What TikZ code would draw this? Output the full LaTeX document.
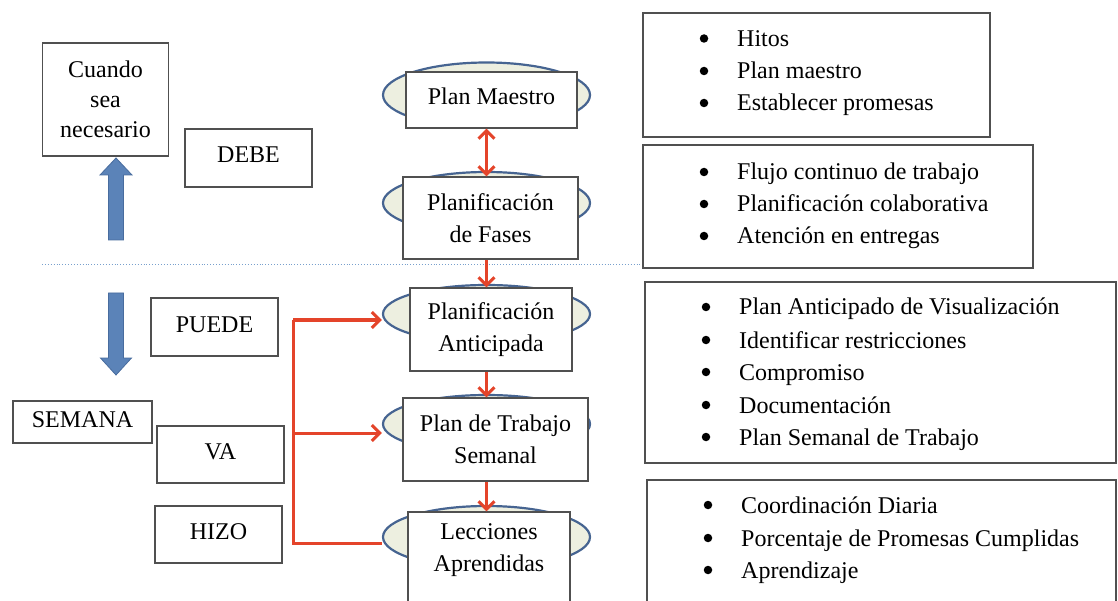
\documentclass[tikz,border=0pt]{standalone}
\usepackage{fontspec}
\setmainfont{Liberation Serif}
\usetikzlibrary{arrows.meta,shapes.geometric}
\definecolor{arrred}{RGB}{228,68,42}
\definecolor{ellline}{RGB}{70,100,145}
\definecolor{ellfill}{RGB}{237,239,224}
\definecolor{blk}{RGB}{91,131,184}
\definecolor{blkline}{RGB}{72,108,158}
\definecolor{dotblue}{RGB}{120,160,205}
\definecolor{boxline}{RGB}{80,80,80}
\begin{document}
\begin{tikzpicture}[x=1pt,y=-1pt,
  font=\fontsize{24}{32}\selectfont,
  box/.style={draw=boxline, line width=1.2, fill=white, inner sep=0, align=center},
  ell/.style={ellipse, draw=ellline, line width=2.2, fill=ellfill, inner sep=0, minimum width=207, minimum height=62},
  redline/.style={draw=arrred, line width=3},
  redarrow/.style={redline, -{Straight Barb[length=8,width=16,line width=3]}},
  blockarrow/.style={fill=blk, draw=blkline, line width=0.8},
  bul/.style={circle, fill=black, inner sep=0, minimum size=8.5},
  itm/.style={anchor=base west, inner sep=0}
]
\clip (0,0) rectangle (1118,601);
\fill[white] (0,0) rectangle (1118,601);

% dotted separator
\coordinate (dl) at (42,264);
\coordinate (dr) at (643,264);
\draw[dotblue, dotted, line width=0.9] (dl) -- (dr);

% left boxes
\node[box, minimum width=126, minimum height=113, font=\fontsize{24}{30}\selectfont] (cuando) at (105.5,99.5) {Cuando\\sea\\necesario};
\node[box, minimum width=127, minimum height=58, text height=17, text depth=7] (debe) at (248.5,158) {DEBE};
\node[box, minimum width=127, minimum height=58, text height=17, text depth=7] (puede) at (214.5,327) {PUEDE};
\node[box, minimum width=139, minimum height=42, text height=17, text depth=7] (semana) at (82.5,422) {SEMANA};
\node[box, minimum width=127, minimum height=57, text height=17, text depth=7] (va) at (220.5,454.5) {VA};
\node[box, minimum width=127, minimum height=57, text height=17, text depth=7] (hizo) at (218.5,534.5) {HIZO};

% block arrows
\filldraw[blockarrow] (108.5,240) -- (108.5,175) -- (100,175) -- (116,158) -- (132,175) -- (123.5,175) -- (123.5,240) -- cycle;
\filldraw[blockarrow] (108.5,293) -- (108.5,358) -- (100.5,358) -- (116,375) -- (131.5,358) -- (123.5,358) -- (123.5,293) -- cycle;

% ellipses
\node[ell, minimum height=65] (em) at (486.5,95) {};
\node[ell] (ef) at (486.5,203) {};
\node[ell, minimum height=58] (ea) at (486.5,314) {};
\node[ell, minimum height=58] (es) at (486.5,424) {};
\node[ell] (el) at (486.5,537) {};

% centre boxes
\node[box, minimum width=171, minimum height=56, text height=17, text depth=7] (pm) at (491.5,100) {Plan Maestro};
\node[box, minimum width=175, minimum height=82] (pf) at (490.5,218) {Planificación\\de Fases};
\node[box, minimum width=162, minimum height=83] (pa) at (491,329.5) {Planificación\\Anticipada};
\node[box, minimum width=185, minimum height=83] (ps) at (495.5,439.5) {Plan de Trabajo\\Semanal};
\node[box, minimum width=162, minimum height=118] (pl) at (489,571) {};
\node[align=center, inner sep=0] (plt) at (489,550) {Lecciones\\Aprendidas};

% vertical red arrows
\draw[redline, {Straight Barb[length=8,width=16,line width=3]}-{Straight Barb[length=8,width=16,line width=3]}] (em.center |- pm.south) -- (em.center |- pf.north);
\draw[redarrow] (em.center |- pf.south) -- (em.center |- pa.north);
\draw[redarrow] (em.center |- pa.south) -- (em.center |- ps.north);
\draw[redarrow] (em.center |- ps.south) -- (em.center |- pl.north);

% red bracket
\coordinate (bt) at (293,320);
\coordinate (bm) at (293,433);
\coordinate (bb) at (293,543);
\draw[redline, line join=miter] (el.west |- bb) -- (bb) -- (bt);
\draw[redarrow] (bt) -- (ea.west |- bt);
\draw[redarrow] (bm) -- (es.west |- bm);

% right boxes
\node[box, minimum width=347, minimum height=124] (r1) at (816.5,75) {};
\node[box, minimum width=390, minimum height=123] (r2) at (838,206.5) {};
\node[box, minimum width=471, minimum height=181] (r3) at (880.5,372.5) {};
\node[box, minimum width=469, minimum height=160] (r4) at (881.5,560) {};

\node[bul] (b11) at (704,38.5) {};
\node[itm] (t11) at (737,46.5) {Hitos};
\node[bul] (b12) at (704,71) {};
\node[itm] (t12) at (737,79) {Plan maestro};
\node[bul] (b13) at (704,103) {};
\node[itm] (t13) at (737,111) {Establecer promesas};

\node[bul] (b21) at (704,172) {};
\node[itm] (t21) at (737,180) {Flujo continuo de trabajo};
\node[bul] (b22) at (704,204) {};
\node[itm] (t22) at (737,212) {Planificación colaborativa};
\node[bul] (b23) at (704,236) {};
\node[itm] (t23) at (737,244) {Atención en entregas};

\node[bul] (b31) at (706,307) {};
\node[itm] (t31) at (739,315) {Plan Anticipado de Visualización};
\node[bul] (b32) at (706,340) {};
\node[itm] (t32) at (739,348) {Identificar restricciones};
\node[bul] (b33) at (706,372) {};
\node[itm] (t33) at (739,380) {Compromiso};
\node[bul] (b34) at (706,405) {};
\node[itm] (t34) at (739,413) {Documentación};
\node[bul] (b35) at (706,437) {};
\node[itm] (t35) at (739,445) {Plan Semanal de Trabajo};

\node[bul] (b41) at (708,505) {};
\node[itm] (t41) at (741,513) {Coordinación Diaria};
\node[bul] (b42) at (708,538) {};
\node[itm] (t42) at (741,546) {Porcentaje de Promesas Cumplidas};
\node[bul] (b43) at (708,570) {};
\node[itm] (t43) at (741,578) {Aprendizaje};
\end{tikzpicture}
\end{document}
